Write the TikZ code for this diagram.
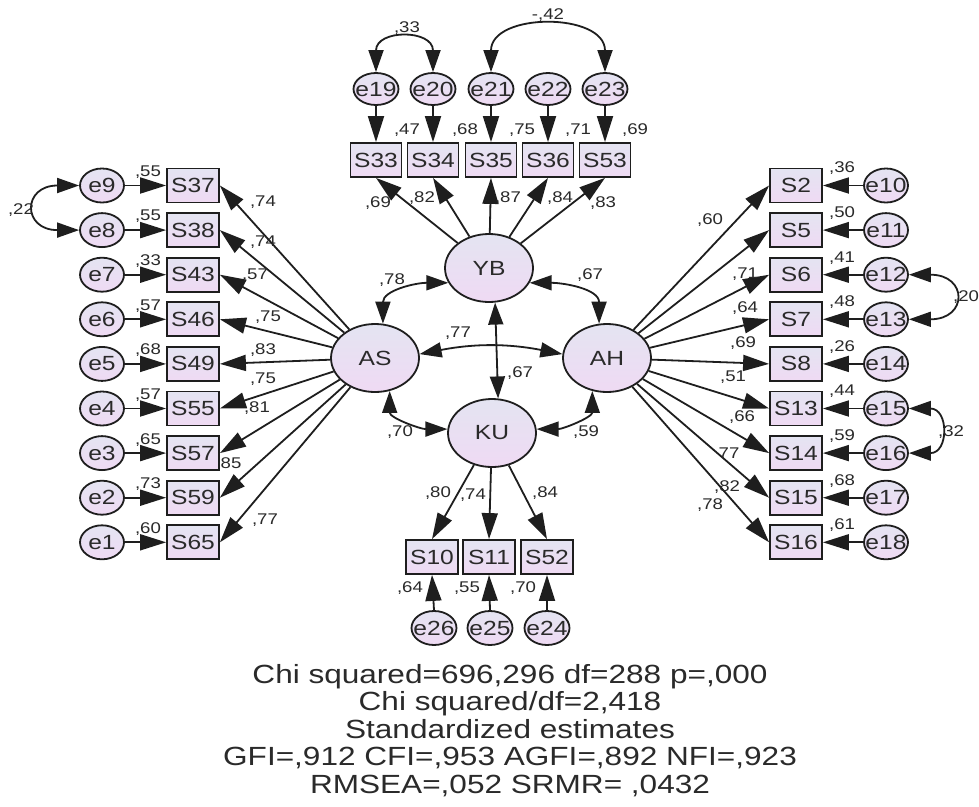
\documentclass[tikz,border=0pt]{standalone}
\usepackage{fontspec}
\setmainfont{Liberation Sans}[FakeStretch=1.2]
\usetikzlibrary{arrows.meta,shapes.geometric}
\definecolor{ink}{HTML}{1E1E1E}
\definecolor{txt}{HTML}{2A2A2A}
\definecolor{gtop}{HTML}{E4E4F2}
\definecolor{gbot}{HTML}{EFDAF3}
\newcommand{\ctext}[1]{\makebox[0pt]{#1}}
\begin{document}
\begin{tikzpicture}[x=1pt,y=1pt,
  obs/.style={draw=ink, line width=1.8pt, rectangle, minimum width=52pt, minimum height=34pt, inner sep=0pt, top color=gtop, bottom color=gbot, font=\fontsize{20.5}{22}\selectfont, text=txt},
  err/.style={draw=ink, line width=1.8pt, ellipse, minimum width=44pt, minimum height=34pt, inner sep=0pt, top color=gtop, bottom color=gbot, font=\fontsize{20.5}{22}\selectfont, text=txt},
  lat/.style={err, minimum width=88pt, minimum height=68pt},
  lbl/.style={font=\fontsize{15.5}{17}\selectfont, text=txt, inner sep=0pt},
  arr/.style={draw=ink, line width=1.8pt, -{Triangle[length=26pt,width=16pt]}},
  darr/.style={draw=ink, line width=1.8pt, {Triangle[length=22pt,width=15pt]}-{Triangle[length=22pt,width=15pt]}},
]
\fill[white] (0,0) rectangle (979,-806);
\useasboundingbox (0,0) rectangle (979,-806);

% latent variables
\node[lat] (YB) at (489,-268) {YB};
\node[lat] (AS) at (375,-358) {AS};
\node[lat] (AH) at (607,-358) {AH};
\node[lat] (KU) at (492,-433) {KU};

% left block
\node[err] (e9) at (102,-185.5) {\ctext{e9}};
\node[err] (e8) at (102,-230.1) {\ctext{e8}};
\node[err] (e7) at (102,-274.7) {\ctext{e7}};
\node[err] (e6) at (102,-319.3) {\ctext{e6}};
\node[err] (e5) at (102,-363.9) {\ctext{e5}};
\node[err] (e4) at (102,-408.5) {\ctext{e4}};
\node[err] (e3) at (102,-453.1) {\ctext{e3}};
\node[err] (e2) at (102,-497.7) {\ctext{e2}};
\node[err] (e1) at (102,-542.3) {\ctext{e1}};
\node[obs] (S37) at (193,-185.5) {S37};
\node[obs] (S38) at (193,-230.1) {S38};
\node[obs] (S43) at (193,-274.7) {S43};
\node[obs] (S46) at (193,-319.3) {S46};
\node[obs] (S49) at (193,-363.9) {S49};
\node[obs] (S55) at (193,-408.5) {S55};
\node[obs] (S57) at (193,-453.1) {S57};
\node[obs] (S59) at (193,-497.7) {S59};
\node[obs] (S65) at (193,-542.3) {S65};

% right block
\node[obs] (S2) at (796,-185.5) {S2};
\node[obs] (S5) at (796,-230.1) {S5};
\node[obs] (S6) at (796,-274.7) {S6};
\node[obs] (S7) at (796,-319.3) {S7};
\node[obs] (S8) at (796,-363.9) {S8};
\node[obs] (S13) at (796,-408.5) {S13};
\node[obs] (S14) at (796,-453.1) {S14};
\node[obs] (S15) at (796,-497.7) {S15};
\node[obs] (S16) at (796,-542.3) {S16};
\node[err] (e10) at (886,-185.5) {\ctext{e10}};
\node[err] (e11) at (886,-230.1) {\ctext{e11}};
\node[err] (e12) at (886,-274.7) {\ctext{e12}};
\node[err] (e13) at (886,-319.3) {\ctext{e13}};
\node[err] (e14) at (886,-363.9) {\ctext{e14}};
\node[err] (e15) at (886,-408.5) {\ctext{e15}};
\node[err] (e16) at (886,-453.1) {\ctext{e16}};
\node[err] (e17) at (886,-497.7) {\ctext{e17}};
\node[err] (e18) at (886,-542.3) {\ctext{e18}};

% top block
\node[obs, minimum width=51pt] (S33) at (376,-160) {S33};
\node[obs, minimum width=51pt] (S34) at (433,-160) {S34};
\node[obs, minimum width=51pt] (S35) at (491,-160) {S35};
\node[obs, minimum width=51pt] (S36) at (548,-160) {S36};
\node[obs, minimum width=51pt] (S53) at (605,-160) {S53};
\node[err, minimum width=45pt, minimum height=32pt] (e19) at (376,-89) {\ctext{e19}};
\node[err, minimum width=45pt, minimum height=32pt] (e20) at (433,-89) {\ctext{e20}};
\node[err, minimum width=45pt, minimum height=32pt] (e21) at (491,-89) {\ctext{e21}};
\node[err, minimum width=45pt, minimum height=32pt] (e22) at (548,-89) {\ctext{e22}};
\node[err, minimum width=45pt, minimum height=32pt] (e23) at (605,-89) {\ctext{e23}};

% bottom block
\node[obs] (S10) at (432,-557) {S10};
\node[obs] (S11) at (489,-557) {S11};
\node[obs] (S52) at (547,-557) {S52};
\node[err, minimum width=45pt] (e26) at (434,-628) {\ctext{e26}};
\node[err, minimum width=45pt] (e25) at (490,-628) {\ctext{e25}};
\node[err, minimum width=45pt] (e24) at (547,-628) {\ctext{e24}};

% error arrows
\foreach \a/\b in {e9/S37,e8/S38,e7/S43,e6/S46,e5/S49,e4/S55,e3/S57,e2/S59,e1/S65}
  \draw[arr] (\a.east) -- (\b.west);
\foreach \a/\b in {e10/S2,e11/S5,e12/S6,e13/S7,e14/S8,e15/S13,e16/S14,e17/S15,e18/S16}
  \draw[arr] (\a.west) -- (\b.east);
\foreach \a/\b in {e19/S33,e20/S34,e21/S35,e22/S36,e23/S53}
  \draw[arr] (\a.south) -- (\b.north);
\foreach \a/\b in {e26/S10,e25/S11,e24/S52}
  \draw[arr] (\a.north) -- (\b.south);

% loadings
\foreach \b in {S37,S38,S43,S46,S49,S55,S57,S59,S65}
  \draw[arr] (AS) -- (\b.east);
\foreach \b in {S2,S5,S6,S7,S8,S13,S14,S15,S16}
  \draw[arr] (AH) -- (\b.west);
\foreach \b in {S33,S34,S35,S36,S53}
  \draw[arr] (YB) -- (\b.south);
\foreach \b in {S10,S11,S52}
  \draw[arr] (KU) -- (\b.north);

% error covariances
\draw[darr] (e9.west) .. controls +(-57,0) and +(-57,0) .. (e8.west);
\draw[darr] (e19.north) .. controls +(0,43) and +(0,43) .. (e20.north);
\draw[darr] (e21.north) .. controls +(0,60) and +(0,60) .. (e23.north);
\draw[darr] (e12.east) .. controls +(59,0) and +(59,0) .. (e13.east);
\draw[darr] (e15.east) .. controls +(40,0) and +(40,0) .. (e16.east);

% latent covariances
\draw[darr] (YB.200) to[out=180,in=90,looseness=1.1] (AS.77);
\draw[darr] (YB.340) to[out=0,in=90,looseness=1.1] (AH.103);
\draw[darr] (AS.5) to[bend left=11] (AH.175);
\draw[darr] (YB.-80) -- (KU.80);
\draw[darr] (AS.-66) to[out=-90,in=180] (KU.175);
\draw[darr] (AH.-114) to[out=-90,in=0] (KU.5);

% labels: left R2
\node[lbl] (r9) at (148,-172) {,55};
\node[lbl] (r8) at (148,-216.6) {,55};
\node[lbl] (r7) at (148,-261.2) {,33};
\node[lbl] (r6) at (148,-305.8) {,57};
\node[lbl] (r5) at (148,-350.4) {,68};
\node[lbl] (r4) at (148,-395) {,57};
\node[lbl] (r3) at (148,-439.6) {,65};
\node[lbl] (r2) at (148,-484.2) {,73};
\node[lbl] (r1) at (148,-528.8) {,60};
% left loadings
\node[lbl] (la1) at (263,-202) {,74};
\node[lbl] (la2) at (263,-242) {,74};
\node[lbl] (la3) at (255,-275) {,57};
\node[lbl] (la4) at (268,-317) {,75};
\node[lbl] (la5) at (263,-350) {,83};
\node[lbl] (la6) at (263,-379) {,75};
\node[lbl] (la7) at (257,-408) {,81};
\node[lbl] (la8) at (231,-463) {85};
\node[lbl] (la9) at (265,-520) {,77};
\node[lbl] (c22) at (21,-210) {,22};

% right R2
\node[lbl] (r10) at (842,-168.5) {,36};
\node[lbl] (r11) at (842,-213.1) {,50};
\node[lbl] (r12) at (842,-257.7) {,41};
\node[lbl] (r13) at (842,-302.3) {,48};
\node[lbl] (r14) at (842,-346.9) {,26};
\node[lbl] (r15) at (842,-391.5) {,44};
\node[lbl] (r16) at (842,-436.1) {,59};
\node[lbl] (r17) at (842,-480.7) {,68};
\node[lbl] (r18) at (842,-525.3) {,61};
% right loadings
\node[lbl] (lh1) at (710,-220) {,60};
\node[lbl] (lh2) at (745,-274) {,71};
\node[lbl] (lh3) at (745,-308) {,64};
\node[lbl] (lh4) at (743,-343) {,69};
\node[lbl] (lh5) at (733,-377) {,51};
\node[lbl] (lh6) at (742,-417) {,66};
\node[lbl] (lh7) at (729,-453) {77};
\node[lbl] (lh8) at (727,-487) {,82};
\node[lbl] (lh9) at (710,-505) {,78};
\node[lbl, anchor=west] (c20) at (953,-297) {,20};
\node[lbl, anchor=west] (c32) at (938,-432) {,32};

% top labels
\node[lbl] (r19) at (407,-130) {,47};
\node[lbl] (r20) at (465,-130) {,68};
\node[lbl] (r21) at (522,-130) {,75};
\node[lbl] (r22) at (578,-130) {,71};
\node[lbl] (r23) at (635,-130) {,69};
\node[lbl] (ly1) at (378,-203) {,69};
\node[lbl] (ly2) at (422,-198) {,82};
\node[lbl] (ly3) at (508,-198) {,87};
\node[lbl] (ly4) at (560,-198) {,84};
\node[lbl] (ly5) at (603,-203) {,83};
\node[lbl] (c33) at (407,-28) {,33};
\node[lbl] (c42) at (548,-15) {-,42};

% latent covariance labels
\node[lbl] (k78) at (392,-280) {,78};
\node[lbl] (k67a) at (590,-275) {,67};
\node[lbl] (k77) at (458,-333) {,77};
\node[lbl] (k67b) at (520,-373) {,67};
\node[lbl] (k70) at (400,-432) {,70};
\node[lbl] (k59) at (586,-432) {,59};

% bottom labels
\node[lbl] (lk1) at (438,-493) {,80};
\node[lbl] (lk2) at (473,-495) {,74};
\node[lbl] (lk3) at (545,-493) {,84};
\node[lbl] (r26) at (410,-588) {,64};
\node[lbl] (r25) at (467,-588) {,55};
\node[lbl] (r24) at (523,-588) {,70};

% fit statistics
\node[font=\fontsize{26.3}{27.5}\selectfont, text=txt, align=center, inner sep=0pt] (fit) at (510,-730.5)
  {Chi squared=696,296 df=288 p=,000\\Chi squared/df=2,418\\Standardized estimates\\GFI=,912 CFI=,953 AGFI=,892 NFI=,923\\RMSEA=,052 SRMR= ,0432};
\end{tikzpicture}
\end{document}
